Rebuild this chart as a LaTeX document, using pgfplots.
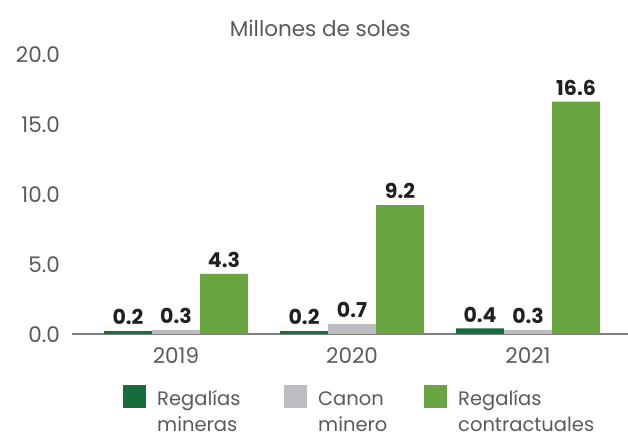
\documentclass[border=0pt]{standalone}
\usepackage{pgfplots}
\pgfplotsset{compat=1.18}
\usepackage{fontspec}
\setmainfont{Poppins}
\definecolor{dgreen}{HTML}{166C3B}
\definecolor{lgrey}{HTML}{BCBDC0}
\definecolor{lgreen}{HTML}{69A642}
\definecolor{txtgrey}{HTML}{5A5A5A}
\definecolor{valblack}{HTML}{231F20}
\definecolor{basegrey}{HTML}{7F7F7F}
\begin{document}
\begin{tikzpicture}[x=1pt,y=1pt]
\useasboundingbox (0,0) rectangle (628,436);
\begin{axis}[
  at={(72pt,102pt)}, anchor=south west,
  scale only axis,
  width=556pt, height=280pt,
  xmin=-0.591, xmax=2.568,
  ymin=0, ymax=20,
  ybar=0pt, bar width=48pt,
  axis x line=bottom, axis y line=left,
  x axis line style={basegrey, line width=2pt, -},
  y axis line style={draw=none},
  xtick={0,1,2}, xticklabels={2019,2020,2021},
  ytick={0,5,10,15,20},
  major tick length=0pt,
  xticklabel style={font=\fontsize{21.5}{24}\selectfont, text=txtgrey, anchor=north, inner sep=0pt, yshift=-13pt},
  yticklabel style={font=\fontsize{21.5}{24}\selectfont, text=txtgrey, anchor=east, inner sep=0pt, xshift=-12pt, yshift=-1pt},
  yticklabel={\pgfmathprintnumber[fixed, fixed zerofill, precision=1]{\tick}},
  /pgf/number format/assume math mode=true,
  extra description/.code={
    \node[font=\fontsize{21.5}{24}\selectfont, text=txtgrey, anchor=base] at (axis description cs:0.4465,1.0607) {Millones de soles};
  },
  nodes near coords={\pgfmathprintnumber[fixed, fixed zerofill, precision=1]{\pgfplotspointmeta}},
  nodes near coords style={font=\bfseries\fontsize{20.5}{24}\selectfont, text=valblack, anchor=south, inner sep=0pt, yshift=6pt},
  legend columns=3,
  legend style={draw=none, fill=none, at={(axis description cs:0.0917,-0.18)}, anchor=north west,
    inner sep=0pt, column sep=0pt, row sep=0pt,
    nodes={inner sep=0pt, anchor=base west, text=txtgrey, font=\fontsize{19.5}{26}\selectfont}},
  legend image code/.code={\fill[#1] (0pt,-2pt) rectangle (23pt,21pt); \path (34pt,0pt);},
  clip=false,
]
\addplot[fill=dgreen, draw=none] coordinates {(0,0.2) (1,0.2) (2,0.4)};
\addplot[fill=lgrey, draw=none] coordinates {(0,0.3) (1,0.7) (2,0.3)};
\addplot[fill=lgreen, draw=none] coordinates {(0,4.3) (1,9.2) (2,16.6)};
\legend{\makebox[127pt][l]{\begin{tabular}[t]{@{}l@{}}Regalías\\mineras\end{tabular}},
        \makebox[106pt][l]{\begin{tabular}[t]{@{}l@{}}Canon\\minero\end{tabular}},
        \begin{tabular}[t]{@{}l@{}}Regalías\\contractuales\end{tabular}}
\end{axis}
\end{tikzpicture}
\end{document}
